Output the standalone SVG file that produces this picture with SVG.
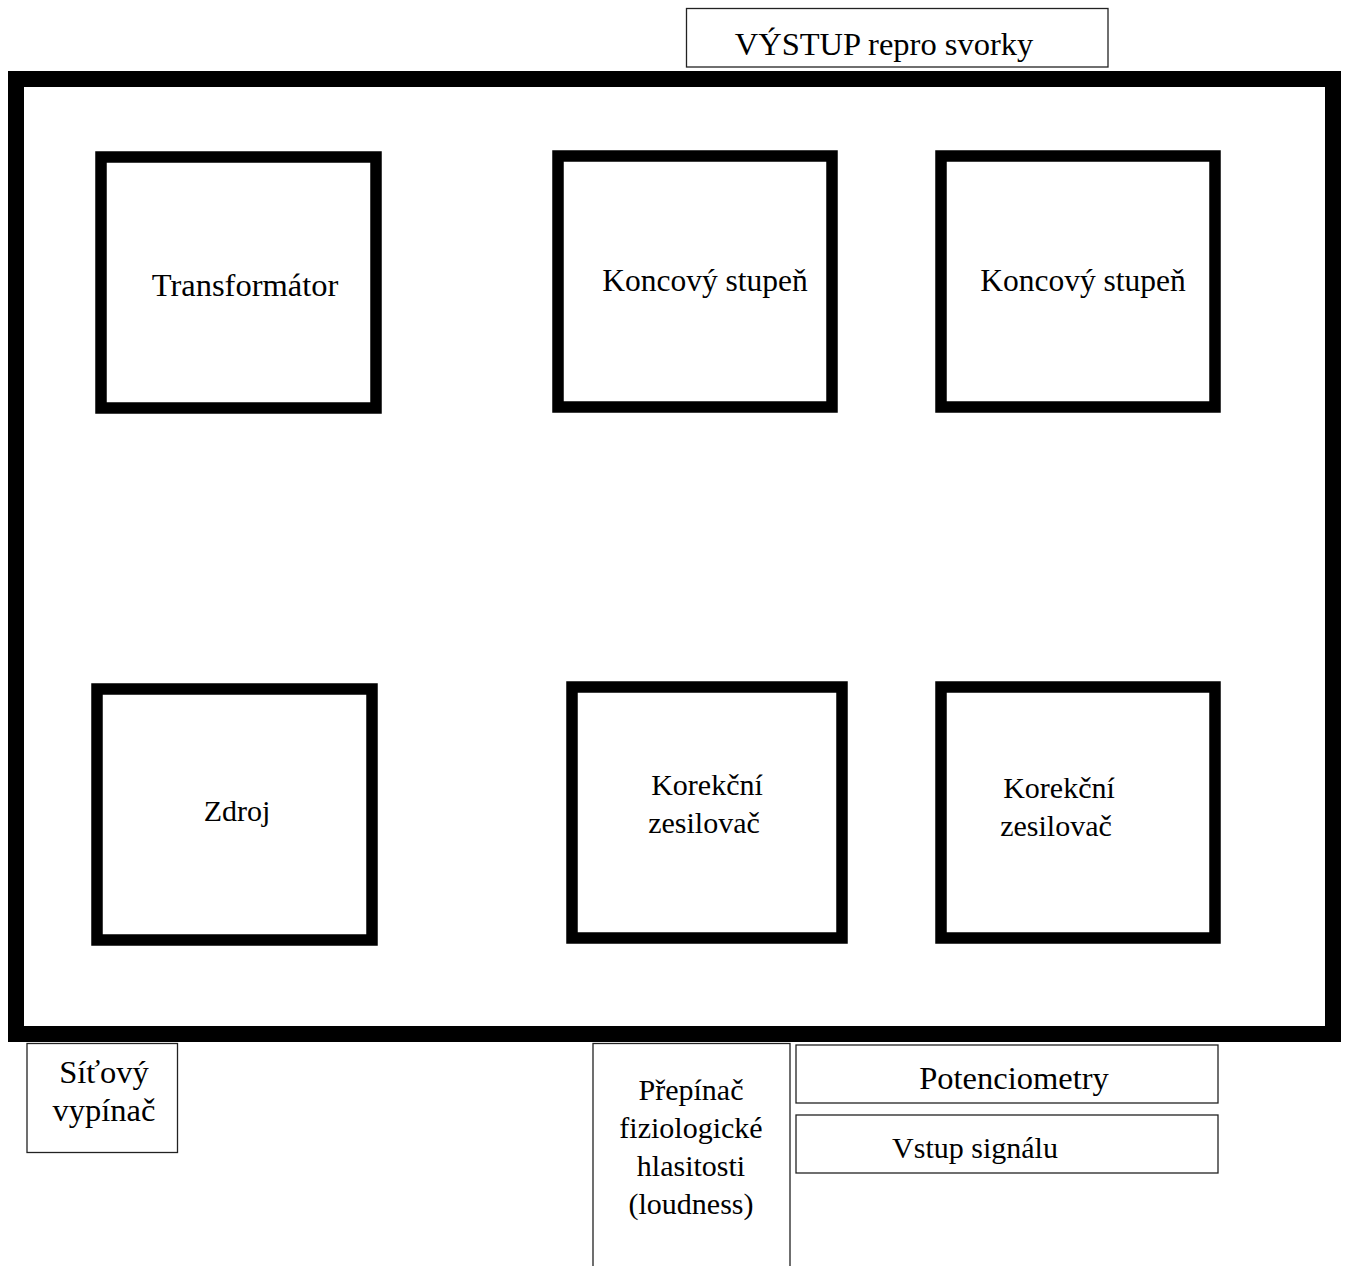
<svg xmlns="http://www.w3.org/2000/svg" width="1347" height="1266" viewBox="0 0 1347 1266">
<style>
.frame{fill:none;stroke:#000;stroke-width:16}
.blk{fill:#fff;stroke:#000;stroke-width:11.5}
.thin{fill:#fff;stroke:#222;stroke-width:1.3}
text{font-family:"Liberation Serif","Times New Roman",serif;font-size:32.5px;fill:#000;text-anchor:middle}
.s{font-size:30px}
.m{font-size:31.5px}
</style>
<rect width="1347" height="1266" fill="#fff"/>
<g id="vystup"><rect class="thin" x="686.5" y="8.5" width="421.5" height="58.5"/><text x="884" y="55">VÝSTUP repro svorky</text></g>
<g id="chassis"><rect class="frame" x="16" y="79" width="1317" height="955"/></g>
<g id="transformator"><rect class="blk" x="101" y="157" width="275" height="251"/><text x="245" y="296">Transformátor</text></g>
<g id="koncovy1"><rect class="blk" x="558" y="156" width="274" height="251"/><text class="m" x="705" y="291">Koncový stupeň</text></g>
<g id="koncovy2"><rect class="blk" x="941" y="156" width="274" height="251"/><text class="m" x="1083" y="291">Koncový stupeň</text></g>
<g id="zdroj"><rect class="blk" x="97" y="689" width="275" height="251"/><text class="s" x="237" y="821">Zdroj</text></g>
<g id="korekcni1"><rect class="blk" x="572" y="687" width="270" height="251"/><text class="s" x="707" y="795">Korekční</text><text class="s" x="704" y="833">zesilovač</text></g>
<g id="korekcni2"><rect class="blk" x="941" y="687" width="274" height="251"/><text class="s" x="1059" y="798">Korekční</text><text class="s" x="1056" y="836">zesilovač</text></g>
<g id="sitovy"><rect class="thin" x="27" y="1043.5" width="150.5" height="109"/><text x="104" y="1083">Síťový</text><text x="104" y="1121">vypínač</text></g>
<g id="prepinac"><rect class="thin" x="593" y="1043.5" width="197" height="240"/><text class="s" x="691" y="1100">Přepínač</text><text class="s" x="691" y="1138">fiziologické</text><text class="s" x="691" y="1176">hlasitosti</text><text class="s" x="691" y="1214">(loudness)</text></g>
<g id="potenciometry"><rect class="thin" x="796" y="1045" width="422" height="58"/><text x="1014" y="1089">Potenciometry</text></g>
<g id="vstup"><rect class="thin" x="796" y="1115" width="422" height="58"/><text class="s" x="975" y="1158">Vstup signálu</text></g>
<g id="connectors"></g>
</svg>
